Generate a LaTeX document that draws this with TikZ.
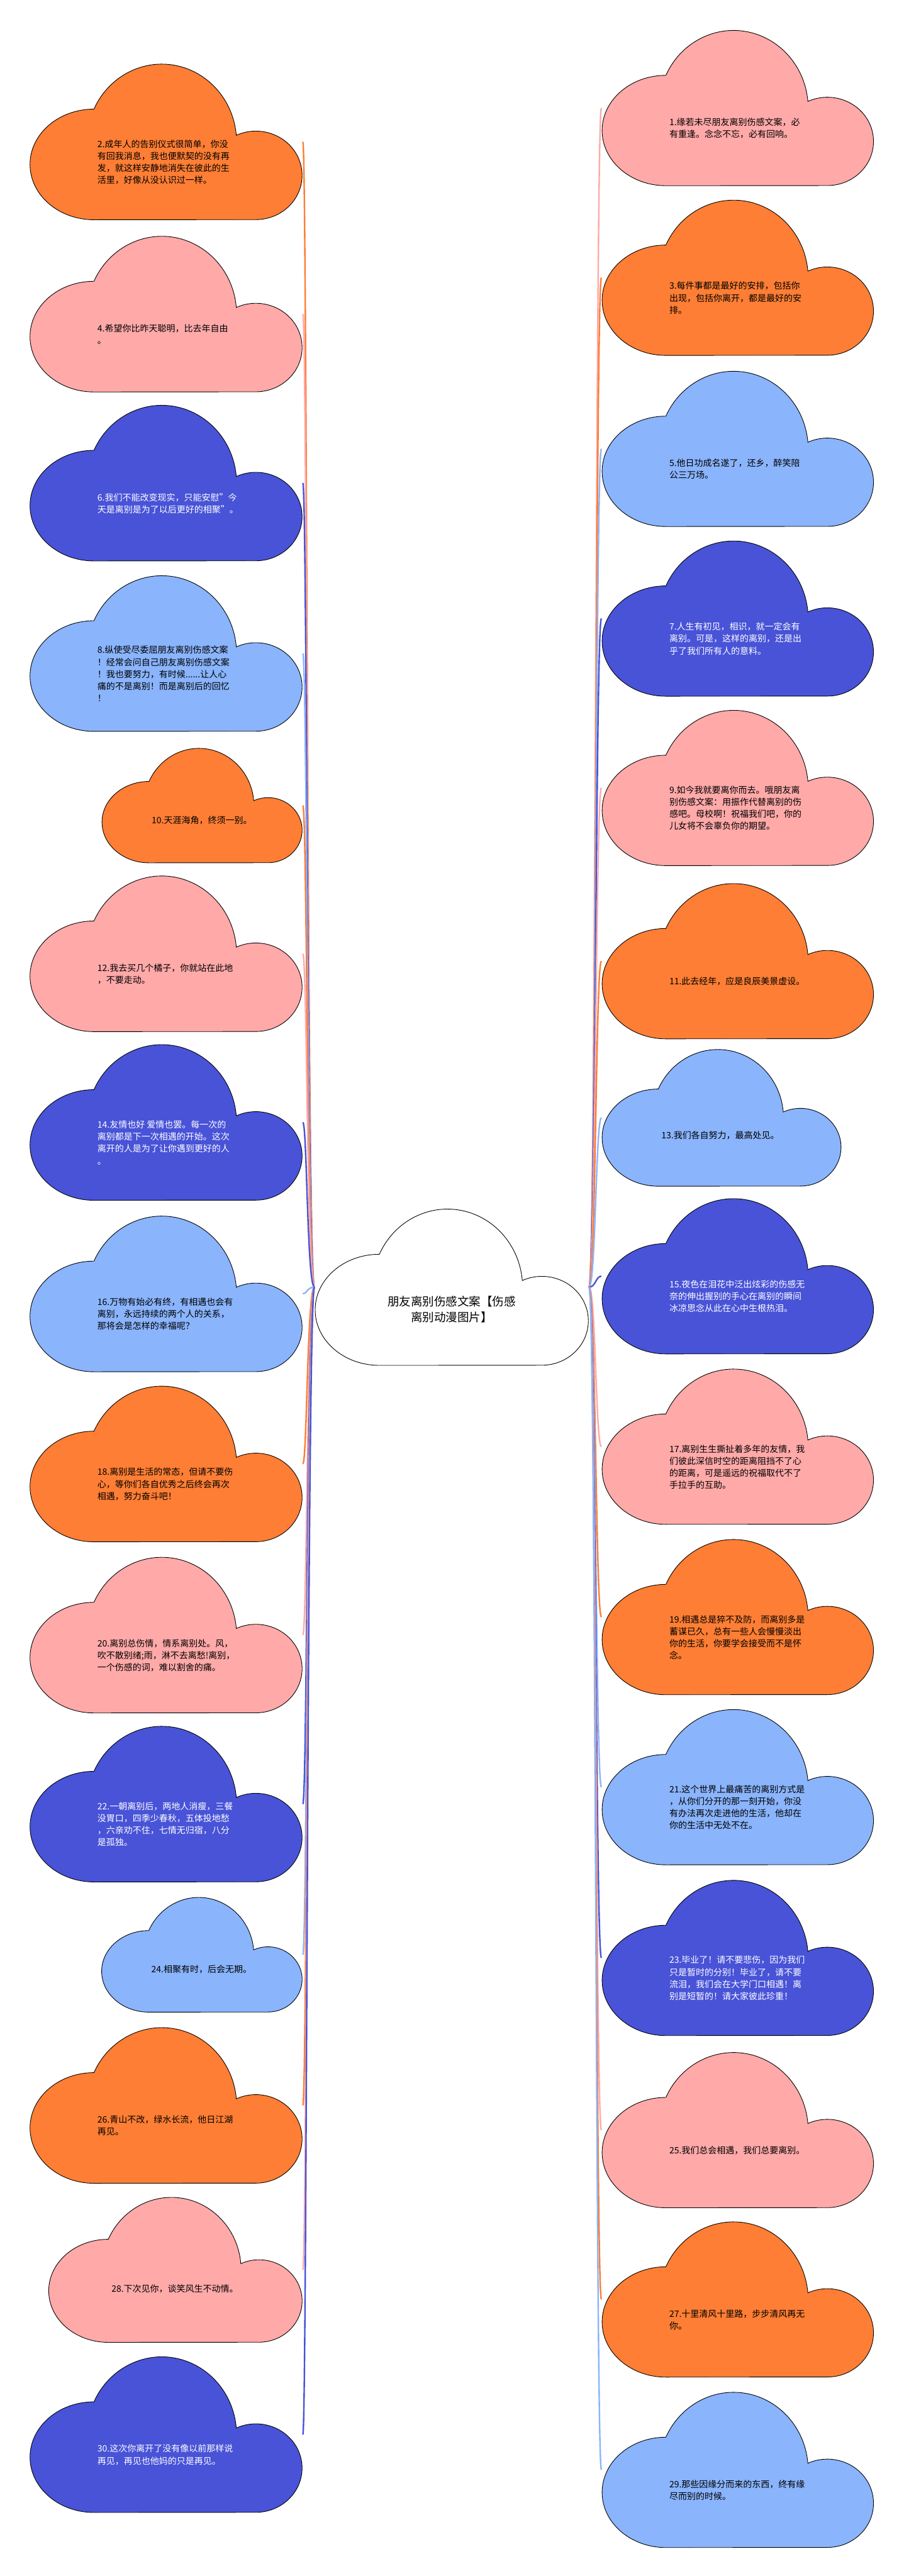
\documentclass[tikz,border=0pt]{standalone}
\usepackage{fontspec}
\setmainfont{Noto Sans CJK SC}
\usetikzlibrary{calc}
\definecolor{corange}{HTML}{FD7E34}
\definecolor{cpink}{HTML}{FFA9A9}
\definecolor{clblue}{HTML}{8AB4FC}
\definecolor{cdblue}{HTML}{4853D7}
\tikzset{
  cloudbox/.style 2 args={minimum width={#1*1cm+0.04cm}, minimum height={0.573*#1*1cm+0.04cm},
    inner sep=0pt, outer sep=0pt,
    path picture={
      \filldraw[fill=#2, draw=black, line width=0.45pt]
        ([shift={({0.235*#1*1cm+0.02cm},0.02cm)}]path picture bounding box.south west)
        arc[start angle=270, end angle=90, x radius={0.235*#1*1cm}, y radius={0.2034*#1*1cm}]
        arc[start angle=155, end angle=5, x radius={0.275*#1*1cm}, y radius={0.2865*#1*1cm}]
        arc[start angle=115, end angle=-90, x radius={0.17*#1*1cm}, y radius={0.1627*#1*1cm}]
        -- cycle;
    }},
  cloudtext/.style={font=\fontsize{7.1}{9.7}\selectfont, align=left, inner sep=0pt, anchor=west},
  link/.style={line width=1.2pt}
}
\begin{document}
\begin{tikzpicture}
  \useasboundingbox (0,0) rectangle (25.6,-73.01);
  \coordinate (ltrunk) at (8.70,0);
  \coordinate (rtrunk) at (16.88,0);
  \node[cloudbox={7.74}{white}] (root) at (12.80,-36.48) {};
  \node[font=\fontsize{9.4}{12.8}\selectfont, align=center, inner sep=0pt] (title)
    at ([yshift=-0.63cm]root.center) {朋友离别伤感文案【伤感\\离别动漫图片】};
  \foreach \n/\yc/\w/\col/\tc/\txt in {
    2/4.02/7.71/corange/black/{2.成年人的告别仪式很简单，你没\\有回我消息，我也便默契的没有再\\发，就这样安静地消失在彼此的生\\活里，好像从没认识过一样。},
    4/8.90/7.71/cpink/black/{4.希望你比昨天聪明，比去年自由\\。},
    6/13.69/7.71/cdblue/white/{6.我们不能改变现实，只能安慰"今\\天是离别是为了以后更好的相聚"。},
    8/18.52/7.71/clblue/black/{8.纵使受尽委屈朋友离别伤感文案\\！经常会问自己朋友离别伤感文案\\！我也要努力，有时候......让人心\\痛的不是离别！而是离别后的回忆\\！},
    10/22.83/5.67/corange/black/{10.天涯海角，终须一别。},
    12/27.03/7.71/cpink/black/{12.我去买几个橘子，你就站在此地\\，不要走动。},
    14/31.81/7.71/cdblue/white/{14.友情也好 爱情也罢。每一次的\\离别都是下一次相遇的开始。这次\\离开的人是为了让你遇到更好的人\\。},
    16/36.67/7.71/clblue/black/{16.万物有始必有终，有相遇也会有\\离别，永远持续的两个人的关系，\\那将会是怎样的幸福呢？},
    18/41.49/7.71/corange/black/{18.离别是生活的常态，但请不要伤\\心，等你们各自优秀之后终会再次\\相遇，努力奋斗吧！},
    20/46.34/7.71/cpink/black/{20.离别总伤情，情系离别处。风，\\吹不散别绪;雨，淋不去离愁!离别，\\一个伤感的词，难以割舍的痛。},
    22/51.13/7.71/cdblue/white/{22.一朝离别后，两地人消瘦，三餐\\没胃口，四季少春秋，五体投地愁\\，六亲劝不住，七情无归宿，八分\\是孤独。},
    24/55.40/5.68/clblue/black/{24.相聚有时，后会无期。},
    26/59.67/7.71/corange/black/{26.青山不改，绿水长流，他日江湖\\再见。},
    28/64.33/7.18/cpink/black/{28.下次见你，谈笑风生不动情。},
    30/69.00/7.71/cdblue/white/{30.这次你离开了没有像以前那样说\\再见，再见也他妈的只是再见。}}{
    \node[cloudbox={\w}{\col}, anchor=east] (c\n) at (8.58,-\yc) {};
    \node[cloudtext, text=\tc] (t\n) at ([shift={({0.247*\w*1cm+0.02cm},{0.212*\w*1cm+0.02cm})}]c\n.south west) {\txt};
    \draw[link, \col] (root.west) .. controls (root.west -| ltrunk) and (c\n.east -| ltrunk) .. (c\n.east);
  }
  \foreach \n/\yc/\w/\col/\tc/\txt in {
    1/3.06/7.69/cpink/black/{1.缘若未尽朋友离别伤感文案，必\\有重逢。念念不忘，必有回响。},
    3/7.87/7.69/corange/black/{3.每件事都是最好的安排，包括你\\出现，包括你离开，都是最好的安\\排。},
    5/12.72/7.69/clblue/black/{5.他日功成名遂了，还乡，醉笑陪\\公三万场。},
    7/17.53/7.69/cdblue/white/{7.人生有初见，相识，就一定会有\\离别。可是，这样的离别，还是出\\乎了我们所有人的意料。},
    9/22.33/7.69/cpink/black/{9.如今我就要离你而去。哦朋友离\\别伤感文案：用振作代替离别的伤\\感吧。母校啊！祝福我们吧，你的\\儿女将不会辜负你的期望。},
    11/27.24/7.69/corange/black/{11.此去经年，应是良辰美景虚设。},
    13/31.68/6.77/clblue/black/{13.我们各自努力，最高处见。},
    15/36.17/7.69/cdblue/white/{15.夜色在泪花中泛出炫彩的伤感无\\奈的伸出握别的手心在离别的瞬间\\冰凉思念从此在心中生根热泪。},
    17/41.00/7.69/cpink/black/{17.离别生生撕扯着多年的友情，我\\们彼此深信时空的距离阻挡不了心\\的距离，可是遥远的祝福取代不了\\手拉手的互助。},
    19/45.83/7.69/corange/black/{19.相遇总是猝不及防，而离别多是\\蓄谋已久，总有一些人会慢慢淡出\\你的生活，你要学会接受而不是怀\\念。},
    21/50.65/7.69/clblue/black/{21.这个世界上最痛苦的离别方式是\\，从你们分开的那一刻开始，你没\\有办法再次走进他的生活，他却在\\你的生活中无处不在。},
    23/55.49/7.69/cdblue/white/{23.毕业了！请不要悲伤，因为我们\\只是暂时的分别！毕业了，请不要\\流泪，我们会在大学门口相遇！离\\别是短暂的！请大家彼此珍重！},
    25/60.37/7.69/cpink/black/{25.我们总会相遇，我们总要离别。},
    27/65.17/7.69/corange/black/{27.十里清风十里路，步步清风再无\\你。},
    29/70.00/7.69/clblue/black/{29.那些因缘分而来的东西，终有缘\\尽而别的时候。}}{
    \node[cloudbox={\w}{\col}, anchor=west] (c\n) at (17.04,-\yc) {};
    \node[cloudtext, text=\tc] (t\n) at ([shift={({0.247*\w*1cm+0.02cm},{0.212*\w*1cm+0.02cm})}]c\n.south west) {\txt};
    \draw[link, \col] (root.east) .. controls (root.east -| rtrunk) and (c\n.west -| rtrunk) .. (c\n.west);
  }
\end{tikzpicture}
\end{document}
